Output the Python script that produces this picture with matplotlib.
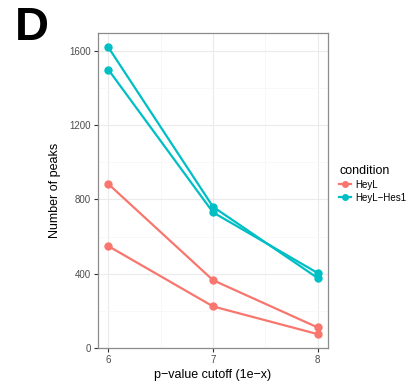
import matplotlib
matplotlib.use("Agg")
import matplotlib.pyplot as plt
from matplotlib.lines import Line2D

plt.rcParams['font.family'] = ['Liberation Sans', 'DejaVu Sans']

cutoffs = [6, 7, 8]
heyl_rep1 = [882, 365, 111]
heyl_rep2 = [548, 224, 75]
heylhes1_rep1 = [1617, 760, 377]
heylhes1_rep2 = [1497, 730, 404]
y_ticks = [0, 400, 800, 1200, 1600]
x_ticks = [6, 7, 8]

c_red = '#F8766D'
c_teal = '#00BFC4'

fig = plt.figure(figsize=(4.14, 3.88), dpi=100)
ax = fig.add_axes([0.2367, 0.103, 0.5556, 0.812])

for s, c in [(heyl_rep1, c_red), (heyl_rep2, c_red),
             (heylhes1_rep1, c_teal), (heylhes1_rep2, c_teal)]:
    ax.plot(cutoffs, s, color=c, lw=1.6, marker='o', ms=5, zorder=3)

ax.set_xlim(5.9, 8.1)
ax.set_ylim(0, 1695)
ax.set_xticks(x_ticks)
ax.set_yticks(y_ticks)
ax.set_xticks([6.5, 7.5], minor=True)
ax.set_yticks([200, 600, 1000, 1400], minor=True)
ax.grid(which='major', color='#EBEBEB', lw=0.8, zorder=0)
ax.grid(which='minor', color='#F5F5F5', lw=0.5, zorder=0)
ax.tick_params(which='minor', length=0)
ax.tick_params(which='major', length=3, color='#333333', labelsize=7, labelcolor='#4D4D4D', pad=2)
for sp in ax.spines.values():
    sp.set_color('#8C8C8C')
    sp.set_linewidth(0.9)
ax.set_axisbelow(True)

ax.set_xlabel('p\u2212value cutoff (1e\u2212x)', fontsize=9, labelpad=3)
ax.set_ylabel('Number of peaks', fontsize=9, labelpad=6)

handles = [Line2D([], [], color=c_red, marker='o', lw=1.6, ms=4),
           Line2D([], [], color=c_teal, marker='o', lw=1.6, ms=4)]
leg = fig.legend(handles, ['HeyL', 'HeyL\u2212Hes1'], title='condition',
                 loc='upper left', bbox_to_anchor=(0.81, 0.585), frameon=False,
                 fontsize=7, title_fontsize=9, handlelength=1.2, handletextpad=0.4,
                 labelspacing=0.3, borderaxespad=0)
leg._legend_box.align = 'left'

fig.text(0.035, 0.985, 'D', fontsize=34, fontweight='bold', va='top', ha='left')

fig.savefig('out.png', dpi=100)
